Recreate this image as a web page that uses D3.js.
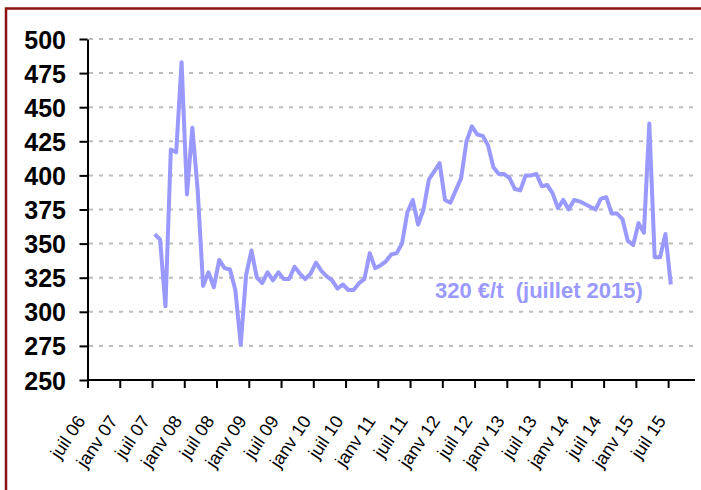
<!DOCTYPE html>
<html>
<head>
<meta charset="utf-8">
<script src="https://cdn.jsdelivr.net/npm/d3@7"></script>
<style>
  body { margin: 0; background: #fff; }
  svg { display: block; }
  text { font-family: "Liberation Sans", Arial, sans-serif; }
</style>
</head>
<body>
<script>
// months are counted from juil 06 (0); prices start in juil 07
var firstMonth = 12;
var prices = [357, 353, 304, 419, 417, 483, 386, 435, 389, 319, 329, 318,
  338, 332, 331, 316, 276, 327, 345, 325, 321, 329, 323, 329,
  324, 324, 333, 328, 324, 328, 336, 330, 326, 323, 317, 320,
  316, 316, 321, 324, 343, 332, 334, 337, 342, 343, 350, 373,
  382, 364, 375, 397, 403, 409, 382, 380, 389, 398, 425, 436,
  430, 429, 422, 406, 401, 401, 398, 390, 389, 400, 400, 401,
  392, 393, 387, 376, 382, 375, 382, 381, 379, 377, 375, 383,
  384, 372, 372, 368, 352, 349, 365, 358, 438, 340, 340, 357,
  320];
var yTicks = [250, 275, 300, 325, 350, 375, 400, 425, 450, 475, 500];
var xTickMonths = [0, 6, 12, 18, 24, 30, 36, 42, 48, 54, 60, 66, 72, 78, 84, 90, 96, 102, 108];
var xTickLabels = ["juil 06", "janv 07", "juil 07", "janv 08", "juil 08", "janv 09", "juil 09",
  "janv 10", "juil 10", "janv 11", "juil 11", "janv 12", "juil 12", "janv 13", "juil 13",
  "janv 14", "juil 14", "janv 15", "juil 15"];
var note = "320 €/t  (juillet 2015)";

var svg = d3.select("body").append("svg").attr("width", 701).attr("height", 490);

// frame
svg.append("rect")
  .attr("x", 6).attr("y", 8.5)
  .attr("width", 800).attr("height", 600)
  .attr("fill", "#fff")
  .attr("stroke", "#8b1212")
  .attr("stroke-width", 2.5);

var x = d3.scaleLinear().domain([0, 113]).range([87.5, 695]);
var y = d3.scaleLinear().domain([250, 500]).range([380, 39]);

// dashed grid
svg.append("g").selectAll("line")
  .data(yTicks.slice(1))
  .enter().append("line")
  .attr("x1", 89).attr("x2", 695)
  .attr("y1", function (d) { return y(d); })
  .attr("y2", function (d) { return y(d); })
  .attr("stroke", "#bdbdbd")
  .attr("stroke-width", 2)
  .attr("stroke-dasharray", "4,6");

// y axis
var gy = svg.append("g").attr("transform", "translate(87.5,0)")
  .call(d3.axisLeft(y).tickValues(yTicks).tickSize(8).tickSizeOuter(0).tickPadding(13.5));
gy.selectAll("path, line").attr("stroke", "#000").attr("stroke-width", 2);
gy.selectAll("text")
  .attr("fill", "#000")
  .attr("dy", "0.36em")
  .style("font-size", "25px")
  .style("font-weight", "bold")
  .style("font-family", "'Liberation Sans', Arial, sans-serif");

// x axis
var gx = svg.append("g").attr("transform", "translate(0,380)")
  .call(d3.axisBottom(x).tickValues(xTickMonths).tickSize(8).tickSizeOuter(0)
    .tickFormat(function (d, i) { return xTickLabels[i]; }));
gx.select(".domain").attr("d", "M87.5,0H695");
gx.selectAll("path, line").attr("stroke", "#000").attr("stroke-width", 2);
gx.selectAll("text")
  .attr("fill", "#000")
  .attr("x", 0).attr("y", 0).attr("dy", 0)
  .attr("text-anchor", "end")
  .attr("transform", "translate(-2,41) rotate(-56)")
  .style("font-size", "18px")
  .style("font-family", "'Liberation Sans', Arial, sans-serif");

// price line
var line = d3.line()
  .x(function (d, i) { return x(firstMonth + i + 0.5); })
  .y(function (d) { return y(d); });

svg.append("path")
  .datum(prices)
  .attr("d", line)
  .attr("fill", "none")
  .attr("stroke", "#9999ff")
  .attr("stroke-width", 4)
  .attr("stroke-linejoin", "round");

svg.append("text")
  .attr("x", 435).attr("y", 298)
  .style("white-space", "pre")
  .style("font-size", "22px")
  .style("font-weight", "bold")
  .attr("fill", "#9999ff")
  .text(note);
</script>
</body>
</html>
